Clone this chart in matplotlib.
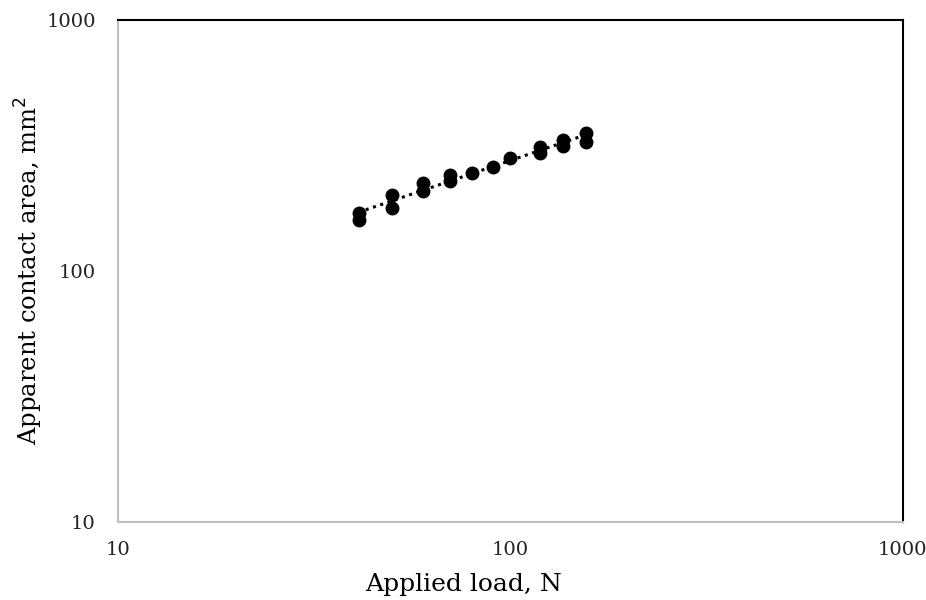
import numpy as np
import matplotlib.pyplot as plt

# applied load (N) and apparent contact area (mm^2)
load = [41, 41, 50, 50, 60, 60, 70, 70, 80, 90, 100, 119, 119, 136, 136, 156, 156]
area = [170, 160, 201, 178, 224, 208, 241, 228, 245, 260, 281, 312, 295, 332, 314, 355, 326]

plt.rcParams['font.family'] = ['DejaVu Serif']

fig, ax = plt.subplots(figsize=(9.26, 6), dpi=100)
fig.subplots_adjust(left=0.1275, right=0.975, top=0.967, bottom=0.13)

# power-law trendline (straight on log-log axes)
b, a = np.polyfit(np.log10(load), np.log10(area), 1)
xs = np.array([min(load), max(load)])
ax.plot(xs, 10 ** a * xs ** b, color='black', ls=(0, (1, 1.5)), lw=2.2, zorder=2)

ax.plot(load, area, 'o', color='black', ms=9, zorder=3)

ax.set_xscale('log')
ax.set_yscale('log')
ax.set_xlim(10, 1000)
ax.set_ylim(10, 1000)
ax.set_xticks([10, 100, 1000])
ax.set_xticklabels(['10', '100', '1000'])
ax.set_yticks([10, 100, 1000])
ax.set_yticklabels(['10', '100', '1000'])
ax.minorticks_off()
ax.tick_params(length=0, labelsize=14, colors='#222222')
ax.tick_params(axis='y', pad=16)
ax.tick_params(axis='x', pad=14)

ax.spines['left'].set_color('#bfbfbf')
ax.spines['bottom'].set_color('#bfbfbf')
for s in ax.spines.values():
    s.set_linewidth(1.5)

ax.set_xlabel('Applied load, N', fontsize=18, labelpad=10, x=0.44)
ax.set_ylabel('Apparent contact area, mm$^2$', fontsize=17.5, labelpad=1)

fig.savefig('out.png')
